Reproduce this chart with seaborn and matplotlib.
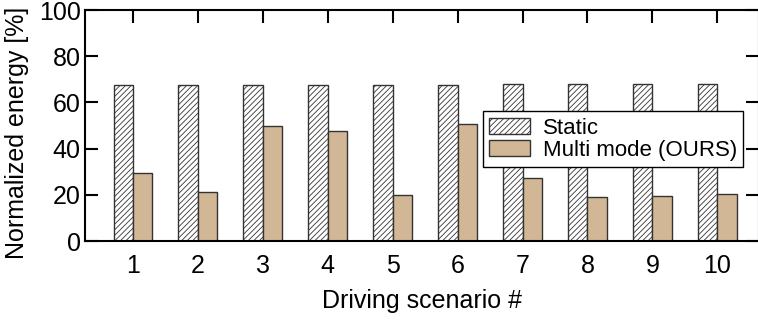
import matplotlib
matplotlib.use("Agg")
import matplotlib.pyplot as plt
import pandas as pd
import seaborn as sns

scenarios = ["1", "2", "3", "4", "5", "6", "7", "8", "9", "10"]
static_energy = [67.6, 67.6, 67.7, 67.7, 67.7, 67.7, 67.8, 67.8, 67.9, 67.9]
multi_energy = [29.3, 21.4, 49.8, 47.8, 19.8, 50.8, 27.1, 18.9, 19.5, 20.5]
series = ["Static", "Multi mode (OURS)"]

df = pd.DataFrame({
    "scenario": scenarios * 2,
    "energy": static_energy + multi_energy,
    "method": [series[0]] * len(scenarios) + [series[1]] * len(scenarios),
})

sns.set_style("ticks")
plt.rcParams['font.family'] = ['Liberation Sans', 'DejaVu Sans']
plt.rcParams['text.color'] = 'black'
plt.rcParams['axes.labelcolor'] = 'black'
plt.rcParams['hatch.color'] = '#8a8a8a'
plt.rcParams['hatch.linewidth'] = 0.6

fs = 18

fig = plt.figure(figsize=(7.58, 3.21), dpi=100)
ax = fig.add_axes([0.1121, 0.2492, 0.889, 0.7196])

sns.barplot(data=df, x="scenario", y="energy", hue="method", order=scenarios,
            hue_order=series, palette=["white", "#d2b797"], width=0.6,
            edgecolor="#333333", linewidth=1.0, saturation=1, ax=ax)

# hatch the static bars
for bar in ax.containers[0]:
    bar.set_hatch("//////")

ax.set_xlim(-0.74, 9.64)
ax.set_ylim(0, 100)
ax.set_yticks([0, 20, 40, 60, 80, 100])

for s in ax.spines.values():
    s.set_linewidth(1.5)
    s.set_color("black")

ax.tick_params(axis="x", direction="in", top=True, bottom=False, length=9,
               width=1.5, pad=9, labelsize=fs, colors="black")
ax.tick_params(axis="y", direction="in", left=True, right=True, length=9.5,
               width=1.5, pad=3, labelsize=fs, colors="black")

ax.set_xlabel("Driving scenario #", fontsize=fs, labelpad=8)
ax.set_ylabel("Normalized energy [%]", fontsize=fs)
ax.yaxis.set_label_coords(-0.083, 0.47)

handles, labels = ax.get_legend_handles_labels()
handles[0].set_hatch("//////")
leg = ax.legend(handles, labels, loc="upper left", bbox_to_anchor=(0.59, 0.563),
                borderaxespad=0, fancybox=False, framealpha=1, edgecolor="black",
                handlelength=1.85, handleheight=0.7, handletextpad=0.55,
                labelspacing=0.05, borderpad=0.3, fontsize=16)
leg.get_frame().set_linewidth(1.0)

fig.savefig("out.png", dpi=100)
